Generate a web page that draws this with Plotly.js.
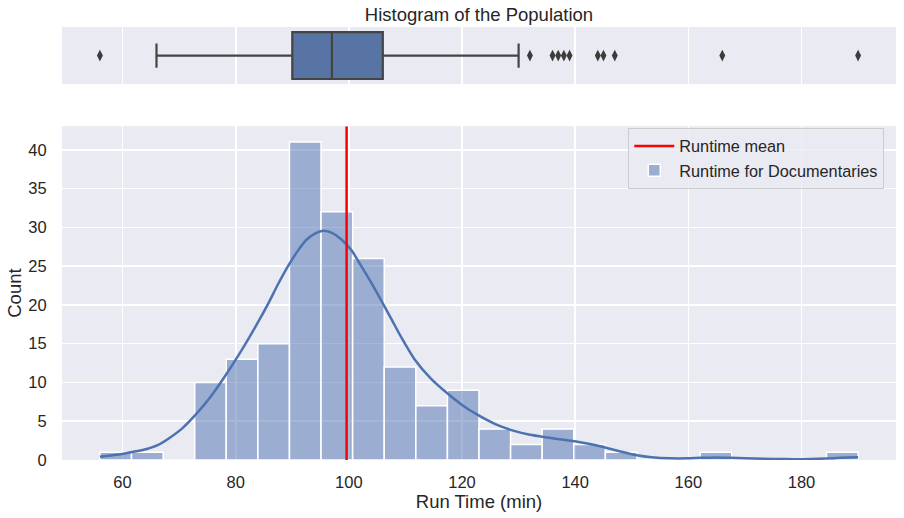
<!DOCTYPE html>
<html>
<head>
<meta charset="utf-8">
<script src="https://cdn.plot.ly/plotly-3.0.1.min.js"></script>
<style>
body { margin: 0; padding: 0; background: white; }
#chart { width: 904px; height: 518px; }
</style>
</head>
<body>
<div id="chart"></div>
<script>
// histogram: 24 equal bins from 56 to 190
var binStart = 56;
var binEnd = 190;
var binCounts = [1, 1, 0, 10, 13, 15, 41, 32, 26, 12, 7, 9, 4, 2, 4, 2, 1, 0, 0, 1, 0, 0, 0, 1];

// kde curve (in counts)
var kdeX = [56, 59, 61, 63.4, 66.3, 68.1, 70.5, 72.8, 75.5, 78.1, 81, 83.5, 85.7, 87.5, 89.25, 91, 92.5, 94, 95.5, 97,
  98.6, 100.5, 102.2, 104, 105.7, 107.5, 109.2, 111.6, 114.5, 117.4, 120, 122.7, 126, 129.2, 132, 135.1, 138, 140.9,
  143, 145.6, 148, 150.9, 153.5, 156.8, 160, 162.1, 165, 167.4, 170, 173.2, 177, 180.3, 183, 185.6, 188, 190];
var kdeY = [0.42, 0.68, 0.93, 1.25, 1.95, 2.75, 4.05, 5.75, 8.1, 10.8, 14.1, 17.2, 20.1, 22.7, 25.0, 27.0, 28.4, 29.2, 29.55, 29.3,
  28.5, 27.0, 25.0, 22.8, 20.6, 18.2, 15.9, 13.0, 10.5, 8.6, 7.1, 5.85, 4.6, 3.75, 3.25, 2.9, 2.6, 2.3,
  2.0, 1.55, 1.1, 0.62, 0.36, 0.22, 0.22, 0.28, 0.31, 0.29, 0.22, 0.16, 0.12, 0.11, 0.15, 0.24, 0.31, 0.35];

var meanRuntime = 99.6;

// box plot stats
var q1 = 90;
var median = 97;
var q3 = 106;
var lowWhisker = 66;
var highWhisker = 130;
var outliers = [56, 132, 136, 137, 138, 139, 144, 145, 147, 166, 190];

var xTicks = [60, 80, 100, 120, 140, 160, 180];
var yTicks = [0, 5, 10, 15, 20, 25, 30, 35, 40];

var binWidth = (binEnd - binStart) / binCounts.length;
var binCenters = binCounts.map(function(c, i){ return binStart + binWidth * (i + 0.5); });
var yTop = Math.max.apply(null, binCounts) * 1.05;

var font = 'Liberation Sans, Arial, sans-serif';
var ink = '#262626';

//------------------------BOX (top panel)
var box = {
  type: 'box',
  orientation: 'h',
  y: [0],
  q1: [q1], median: [median], q3: [q3],
  lowerfence: [lowWhisker], upperfence: [highWhisker],
  boxpoints: false,
  width: 0.82,
  whiskerwidth: 0.52,
  fillcolor: '#5874a5',
  line: {color: '#444444', width: 2.2},
  xaxis: 'x2', yaxis: 'y2',
  showlegend: false,
  hoverinfo: 'skip'
};

var fliers = {
  type: 'scatter',
  mode: 'markers',
  x: outliers,
  y: outliers.map(function(){ return 0; }),
  marker: {symbol: 'diamond-tall', size: 8.5, color: '#3c3c3c'},
  xaxis: 'x2', yaxis: 'y2',
  showlegend: false,
  hoverinfo: 'skip'
};

//------------------------HISTOGRAM (bottom panel)
var bars = {
  type: 'bar',
  x: binCenters,
  y: binCounts,
  width: binWidth,
  name: 'Runtime for Documentaries',
  legendrank: 2,
  marker: {color: 'rgba(76,114,176,0.5)', line: {color: 'white', width: 1.5}},
  hoverinfo: 'skip'
};

var kde = {
  type: 'scatter',
  mode: 'lines',
  x: kdeX,
  y: kdeY,
  line: {color: '#4c72b0', width: 2.5, shape: 'spline', smoothing: 0.6},
  showlegend: false,
  hoverinfo: 'skip'
};

var meanLine = {
  type: 'scatter',
  mode: 'lines',
  x: [meanRuntime, meanRuntime],
  y: [0, yTop],
  name: 'Runtime mean',
  legendrank: 1,
  line: {color: 'red', width: 2.5},
  hoverinfo: 'skip'
};

var data = [box, fliers, bars, kde, meanLine];

var layout = {
  width: 904,
  height: 518,
  margin: {l: 62, r: 8, t: 27, b: 58},
  paper_bgcolor: 'white',
  plot_bgcolor: '#eaeaf2',
  font: {family: font, color: ink, size: 16.5},
  title: {
    text: 'Histogram of the Population',
    font: {family: font, color: ink, size: 18.5},
    x: 0.5, xref: 'paper', xanchor: 'center',
    y: 0.971, yref: 'container', yanchor: 'middle'
  },
  bargap: 0,
  showlegend: true,
  legend: {
    x: 0.679, y: 0.767, xanchor: 'left', yanchor: 'top',
    bgcolor: 'rgba(234,234,242,0.8)',
    bordercolor: '#cccccc', borderwidth: 1,
    font: {family: font, color: ink, size: 16.3},
    itemwidth: 40,
    traceorder: 'normal'
  },
  xaxis: {
    domain: [0, 1], anchor: 'y',
    range: [49.3, 196.7],
    tickvals: xTicks,
    showgrid: true, gridcolor: 'white', gridwidth: 1.6,
    zeroline: false, showline: false,
    ticks: 'outside', ticklen: 7, tickcolor: 'rgba(0,0,0,0)',
    tickfont: {size: 16.5},
    title: {text: 'Run Time (min)', font: {size: 18.5}, standoff: 4}
  },
  yaxis: {
    domain: [0, 0.771], anchor: 'x',
    range: [0, yTop],
    tickvals: yTicks,
    showgrid: true, gridcolor: 'white', gridwidth: 1.6,
    zeroline: false, showline: false,
    ticks: 'outside', ticklen: 11, tickcolor: 'rgba(0,0,0,0)',
    tickfont: {size: 16.5},
    title: {text: 'Count', font: {size: 18.5}, standoff: 1}
  },
  xaxis2: {
    domain: [0, 1], anchor: 'y2',
    matches: 'x',
    tickvals: xTicks,
    showticklabels: false,
    showgrid: true, gridcolor: 'white', gridwidth: 1.6,
    zeroline: false, showline: false, ticks: ''
  },
  yaxis2: {
    domain: [0.868, 1], anchor: 'x2',
    range: [-0.5, 0.5],
    showticklabels: false, showgrid: false,
    zeroline: false, showline: false, ticks: ''
  }
};

Plotly.newPlot('chart', data, layout, {staticPlot: true});
</script>
</body>
</html>
